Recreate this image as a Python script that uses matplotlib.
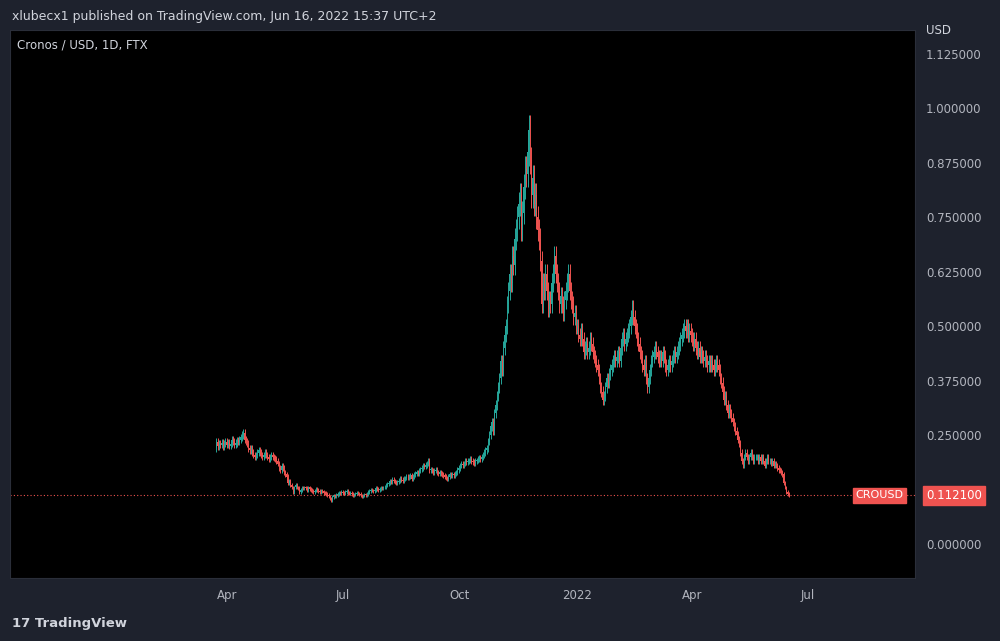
import matplotlib
matplotlib.use("Agg")
import matplotlib.pyplot as plt
import matplotlib.dates as mdates
import numpy as np
import datetime as dt

start_date = dt.date(2021, 3, 24)
closes = [
0.235,0.225,0.23,0.228,0.232,0.225,0.23,0.235,
0.228,0.232,0.226,0.23,0.24,0.235,0.228,0.232,0.238,0.235,0.24,0.245,0.25,0.255,0.24,0.235,0.23,0.22,0.215,0.22,0.21,0.205,0.2,0.205,0.21,0.215,0.21,0.205,0.2,0.205,
0.21,0.205,0.2,0.195,0.2,0.205,0.2,0.198,0.195,0.19,0.185,0.175,0.17,0.18,0.175,0.165,0.16,0.155,0.14,0.145,0.135,0.13,0.12,0.13,0.135,0.13,0.128,0.12,0.125,0.13,0.128,
0.13,0.128,0.125,0.13,0.127,0.125,0.122,0.12,0.123,0.126,0.125,0.122,0.12,0.122,0.121,0.118,0.117,0.115,0.113,0.11,0.105,0.1,0.108,0.112,0.11,0.113,0.115,0.118,0.117,0.12,
0.118,0.117,0.12,0.122,0.118,0.116,0.118,0.115,0.112,0.114,0.116,0.118,0.116,0.115,0.112,0.11,0.112,0.114,0.113,0.115,0.12,0.122,0.125,0.123,0.122,0.125,0.128,0.126,0.125,0.127,0.13,
0.128,0.13,0.132,0.135,0.138,0.14,0.145,0.143,0.148,0.145,0.142,0.14,0.143,0.146,0.15,0.148,0.145,0.15,0.152,0.155,0.153,0.155,0.158,0.15,0.155,0.16,0.162,0.165,0.163,0.168,0.172,
0.175,0.18,0.178,0.182,0.185,0.19,0.17,0.172,0.168,0.165,0.168,0.17,0.165,0.162,0.165,0.163,0.16,0.158,0.155,0.152,0.15,0.155,0.16,0.158,0.16,0.158,0.162,0.165,0.17,0.175,
0.18,0.185,0.182,0.185,0.19,0.188,0.19,0.192,0.195,0.19,0.188,0.185,0.19,0.192,0.195,0.198,0.195,0.2,0.205,0.21,0.215,0.22,0.235,0.25,0.27,0.28,0.26,0.3,0.32,0.34,0.36,
0.38,0.42,0.4,0.45,0.48,0.5,0.55,0.58,0.62,0.6,0.66,0.64,0.7,0.72,0.75,0.78,0.8,0.72,0.76,0.82,0.86,0.85,0.9,0.95,0.88,0.8,0.84,0.78,0.8,0.75,
0.72,0.7,0.65,0.55,0.6,0.58,0.62,0.58,0.54,0.56,0.55,0.6,0.62,0.66,0.62,0.6,0.58,0.55,0.57,0.55,0.53,0.56,0.58,0.6,0.62,0.58,0.56,0.55,0.52,0.53,0.5,
0.5,0.48,0.47,0.49,0.47,0.44,0.45,0.46,0.44,0.45,0.47,0.46,0.44,0.43,0.42,0.41,0.4,0.38,0.36,0.35,0.33,0.34,0.36,0.38,0.37,0.39,0.4,0.41,0.42,0.43,0.42,
0.43,0.44,0.42,0.45,0.47,0.48,0.46,0.47,0.48,0.49,0.5,0.52,0.54,0.52,0.5,0.49,0.47,0.46,0.44,0.43,0.41,0.4,0.42,0.38,0.36,0.38,0.4,0.42,
0.43,0.44,0.45,0.44,0.43,0.42,0.43,0.42,0.44,0.43,0.41,0.4,0.41,0.42,0.41,0.42,0.43,0.44,0.43,0.44,0.45,0.46,0.47,0.48,0.49,0.5,0.49,0.5,0.48,0.49,0.48,
0.47,0.46,0.47,0.45,0.44,0.45,0.43,0.44,0.43,0.42,0.43,0.42,0.41,0.42,0.41,0.42,0.41,0.4,0.41,0.42,0.41,0.4,0.38,0.37,0.35,0.33,0.34,0.32,0.3,0.31,
0.3,0.29,0.28,0.27,0.26,0.25,0.24,0.23,0.21,0.19,0.18,0.2,0.21,0.2,0.19,0.2,0.21,0.2,0.19,0.2,0.2,0.2,0.19,0.2,0.19,0.2,0.19,0.18,0.19,0.2,0.19,
0.19,0.185,0.19,0.18,0.185,0.18,0.175,0.17,0.168,0.165,0.16,0.14,0.13,0.12,0.115,0.1121,
]
first_open = 0.22
last_price = 0.1121
yticks = [0.0, 0.125, 0.25, 0.375, 0.5, 0.625, 0.75, 0.875, 1.0, 1.125]
xtick_dates = [dt.date(2021,4,1), dt.date(2021,7,1), dt.date(2021,10,1), dt.date(2022,1,1), dt.date(2022,4,1), dt.date(2022,7,1)]
xtick_labels = ["Apr", "Jul", "Oct", "2022", "Apr", "Jul"]

UP, DN = "#26a69a", "#ef5350"
fig = plt.figure(figsize=(10, 6.41), dpi=100, facecolor="#1e222d")
ax = fig.add_axes([0.010, 0.098, 0.905, 0.855])
ax.set_facecolor("#000000")

dates = [mdates.date2num(start_date + dt.timedelta(days=i)) for i in range(len(closes))]
opens = [first_open] + closes[:-1]
for d, o, c in zip(dates, opens, closes):
    col = UP if c >= o else DN
    hi = max(o, c) * 1.035
    lo = min(o, c) * 0.965
    ax.vlines(d, lo, hi, color=col, lw=0.7)
    ax.bar(d, abs(c - o) or 0.001, bottom=min(o, c), width=0.6, color=col, lw=0)

ax.axhline(last_price, color=DN, lw=0.8, ls=(0, (1, 2)))
ax.set_ylim(-0.078, 1.179)
ax.set_xlim(mdates.date2num(dt.date(2020,10,13)), mdates.date2num(dt.date(2022,9,23)))
ax.yaxis.tick_right()
ax.set_yticks(yticks)
ax.set_yticklabels([f"{v:.6f}" for v in yticks])
ax.set_xticks([mdates.date2num(d) for d in xtick_dates])
ax.set_xticklabels(xtick_labels)
ax.tick_params(colors="#b2b5be", labelsize=8.5, length=0, pad=8)
for s in ax.spines.values():
    s.set_color("#2a2e39")
ax.text(1.012, 1.012, "USD", transform=ax.transAxes, color="#d1d4dc", fontsize=8.5, va="top")
ax.text(0.008, 0.985, "Cronos / USD, 1D, FTX", transform=ax.transAxes, color="#d1d4dc", fontsize=8.5, va="top")
ax.annotate(f"{last_price:.6f}", xy=(1.0, last_price), xycoords=("axes fraction", "data"),
            xytext=(8, 0), textcoords="offset points", color="white", fontsize=8.5, va="center",
            bbox=dict(boxstyle="square,pad=0.25", fc=DN, ec=DN))
ax.annotate("CROUSD", xy=(1.0, last_price), xycoords=("axes fraction", "data"),
            xytext=(-43, 0), textcoords="offset points", color="white", fontsize=8, va="center",
            bbox=dict(boxstyle="square,pad=0.25", fc=DN, ec=DN))
fig.text(0.012, 0.975, "xlubecx1 published on TradingView.com, Jun 16, 2022 15:37 UTC+2", color="#d1d4dc", fontsize=9, va="center")
fig.text(0.012, 0.028, "𝟭𝟳 TradingView", color="#d1d4dc", fontsize=9.5, va="center", fontweight="bold")
fig.savefig("out.png", facecolor=fig.get_facecolor())
